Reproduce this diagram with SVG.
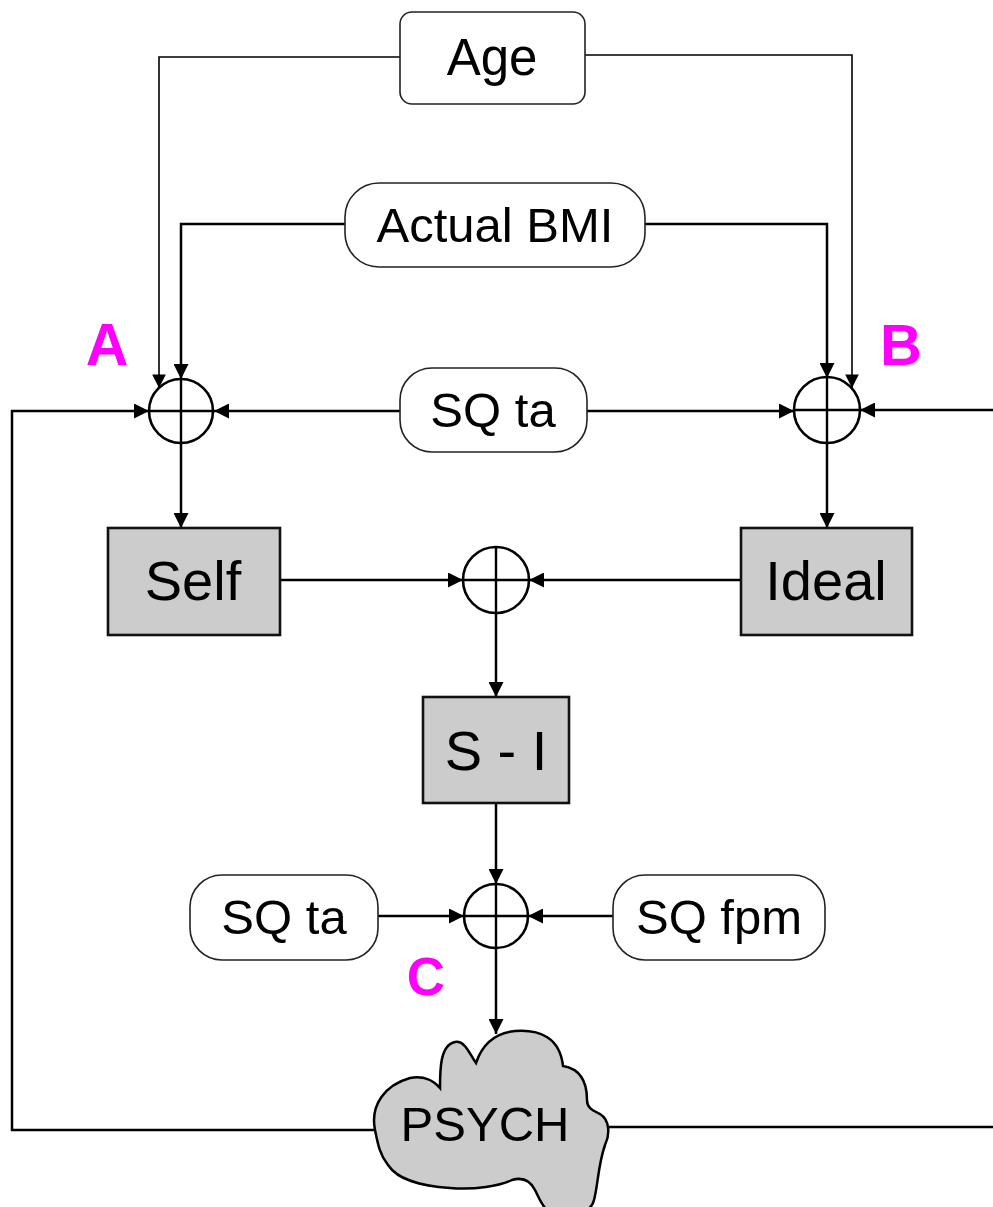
<svg xmlns="http://www.w3.org/2000/svg" width="993" height="1207" viewBox="0 0 993 1207">
<defs>
<marker id="ah" viewBox="0 0 10 10" refX="10" refY="5" markerWidth="6" markerHeight="6" markerUnits="strokeWidth" orient="auto"><path d="M0,0 L10,5 L0,10 Z" fill="#000"/></marker>
<marker id="ahs" viewBox="0 0 10 10" refX="10" refY="5" markerWidth="8.5" markerHeight="8.5" markerUnits="strokeWidth" orient="auto"><path d="M0,0 L10,5 L0,10 Z" fill="#000"/></marker>
</defs>
<style>
.oval{fill:#fff;stroke:#222;stroke-width:1.6}
.box{fill:#cccccc;stroke:#111;stroke-width:2.6}
.sum{fill:#fff;stroke:#000;stroke-width:2.6}
.cross{stroke:#000;stroke-width:2.4;fill:none}
.t{font-family:"Liberation Sans",Arial,sans-serif;fill:#000;text-anchor:middle}
.lbl{font-family:"Liberation Sans",Arial,sans-serif;fill:#ff00ff;font-weight:bold;text-anchor:middle}
.c{fill:none;stroke:#000;stroke-width:2.5;marker-end:url(#ah)}
.thin{fill:none;stroke:#000;stroke-width:1.6;marker-end:url(#ahs)}
</style>
<rect width="993" height="1207" fill="#fff"/>
<g id="connectors">
<path class="thin" d="M400,57 H159 V388"/>
<path class="thin" d="M585,55 H852 V388"/>
<path class="c" d="M345,224 H181 V379"/>
<path class="c" d="M645,224 H827 V378"/>
<path class="c" d="M400,411 H214"/>
<path class="c" d="M587,411 H794"/>
<path class="c" d="M377,1130 H12 V411 H149"/>
<path class="c" d="M606,1127 H1000 V410 H860"/>
<path class="c" d="M181,443 V528"/>
<path class="c" d="M827,442 V528"/>
<path class="c" d="M280,580 H463"/>
<path class="c" d="M741,580 H529"/>
<path class="c" d="M496,613 V697"/>
<path class="c" d="M496,803 V884"/>
<path class="c" d="M378,916 H464"/>
<path class="c" d="M613,916 H528"/>
<path class="c" d="M496,948 V1034"/>
</g>
<g id="age"><rect class="oval" x="400" y="12" width="185" height="92" rx="12"/><text class="t" x="492" y="75" font-size="51">Age</text></g>
<g id="actual-bmi"><rect class="oval" x="345" y="183" width="300" height="84" rx="34"/><text class="t" x="495" y="242" font-size="49">Actual BMI</text></g>
<g id="sq-ta-top"><rect class="oval" x="400" y="368" width="187" height="84" rx="32"/><text class="t" x="493" y="427" font-size="49">SQ ta</text></g>
<g id="sum-a"><circle class="sum" cx="181" cy="411" r="32"/><path class="cross" d="M149,411 H213 M181,379 V443"/></g>
<g id="sum-b"><circle class="sum" cx="827" cy="410" r="33"/><path class="cross" d="M794,410 H860 M827,377 V443"/></g>
<g id="label-a"><text class="lbl" x="107" y="365" font-size="59">A</text></g>
<g id="label-b"><text class="lbl" x="901" y="365" font-size="58">B</text></g>
<g id="self"><rect class="box" x="108" y="528" width="172" height="107"/><text class="t" x="193" y="600" font-size="56">Self</text></g>
<g id="ideal"><rect class="box" x="741" y="528" width="171" height="107"/><text class="t" x="826" y="600" font-size="56">Ideal</text></g>
<g id="sum-mid"><circle class="sum" cx="496" cy="580" r="33"/><path class="cross" d="M463,580 H529 M496,547 V613"/></g>
<g id="s-minus-i"><rect class="box" x="423" y="697" width="146" height="106"/><text class="t" x="496" y="770" font-size="56">S - I</text></g>
<g id="sum-c"><circle class="sum" cx="496" cy="916" r="32"/><path class="cross" d="M464,916 H528 M496,884 V948"/></g>
<g id="sq-ta-bottom"><rect class="oval" x="190" y="875" width="188" height="85" rx="32"/><text class="t" x="284" y="934" font-size="49">SQ ta</text></g>
<g id="sq-fpm"><rect class="oval" x="613" y="875" width="212" height="85" rx="32"/><text class="t" x="719" y="934" font-size="49">SQ fpm</text></g>
<g id="label-c"><text class="lbl" x="426" y="995" font-size="53">C</text></g>
<g id="psych">
<path d="M375,1130 C370,1105 385,1085 410,1078 C425,1075 435,1082 440,1088 C440,1070 440,1045 455,1042 C465,1040 470,1055 476,1063 C482,1045 495,1033 515,1031 C540,1029 560,1038 563,1066 C575,1068 587,1075 587,1100 C587,1108 592,1110 600,1114 C610,1120 610,1135 605,1145 C598,1165 598,1185 594,1200 C592,1210 580,1215 560,1215 C545,1215 540,1200 535,1190 C530,1180 522,1177 512,1180 C500,1186 475,1190 450,1188 C420,1186 398,1180 388,1165 C380,1155 378,1145 375,1130 Z" fill="#cccccc" stroke="#000" stroke-width="2.5"/>
<text class="t" x="485" y="1141" font-size="49">PSYCH</text>
</g>
</svg>
